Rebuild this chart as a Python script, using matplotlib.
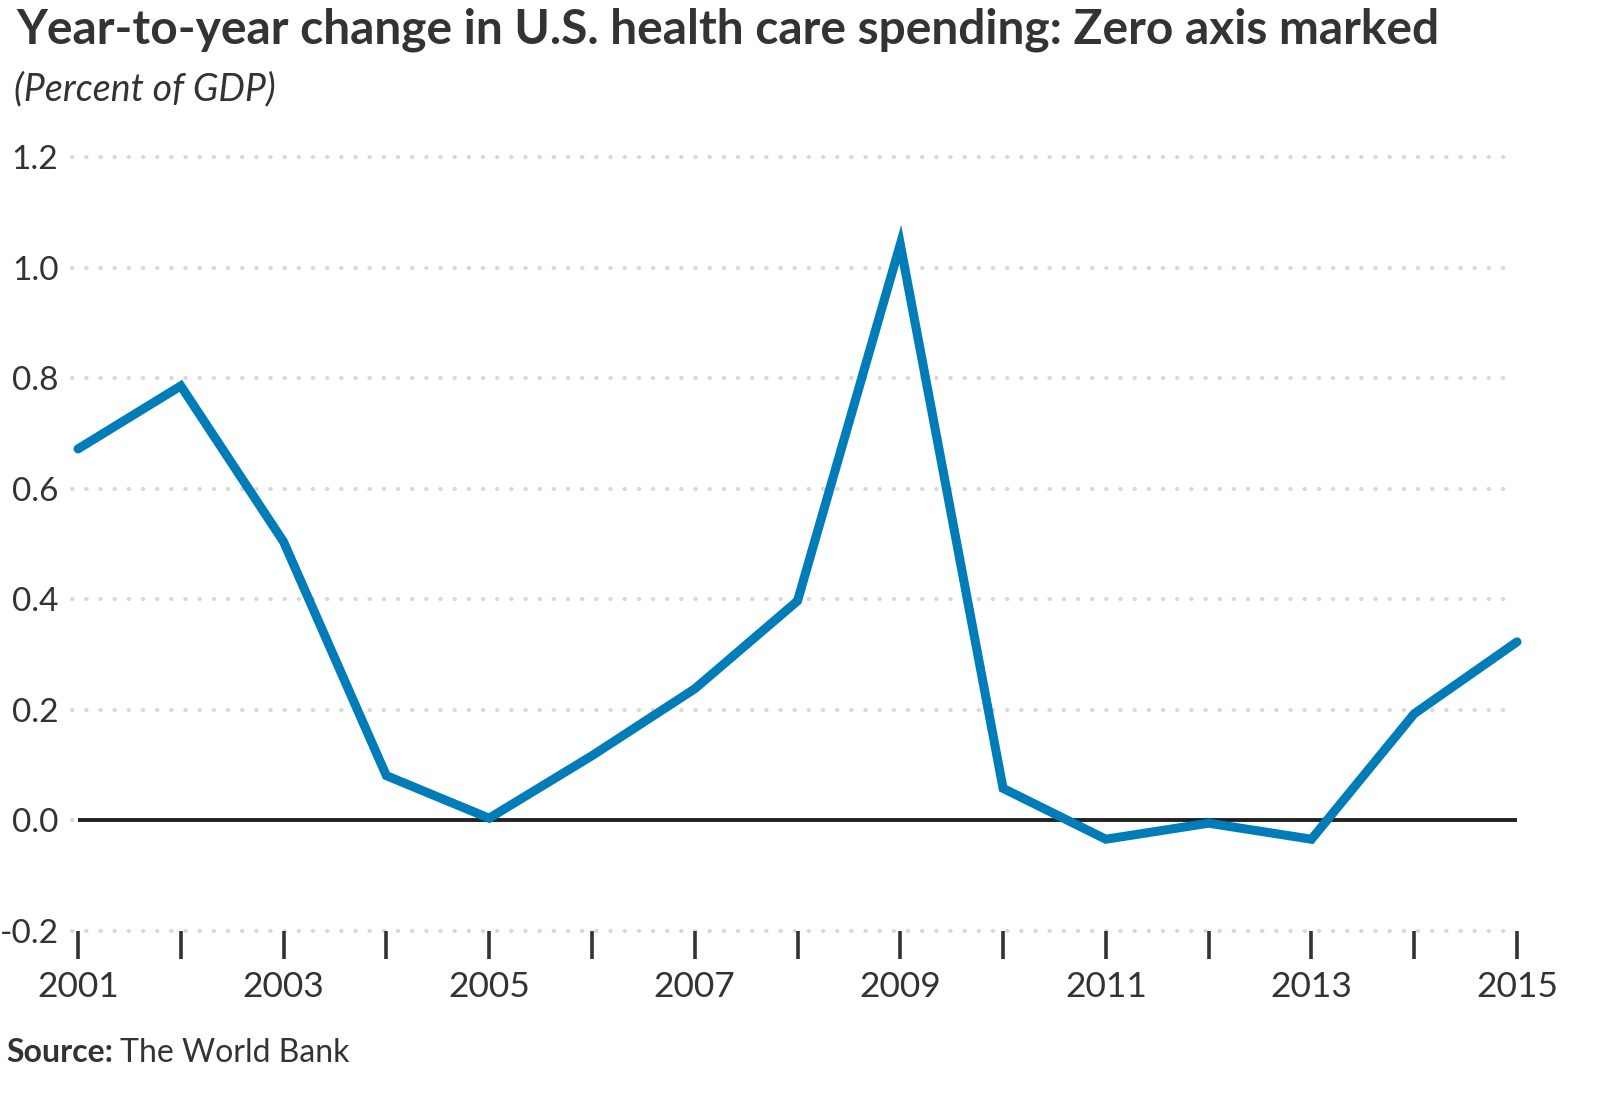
import numpy as np
from matplotlib import pyplot as plt

years = [2001, 2002, 2003, 2004, 2005, 2006, 2007, 2008, 2009, 2010, 2011, 2012, 2013, 2014, 2015]
change = [0.672, 0.786, 0.504, 0.081, 0.004, 0.117, 0.238, 0.397, 1.042, 0.058, -0.034, -0.005, -0.034, 0.193, 0.323]
yticks = [-0.2, 0.0, 0.2, 0.4, 0.6, 0.8, 1.0, 1.2]
xlabels = [2001, 2003, 2005, 2007, 2009, 2011, 2013, 2015]

plt.rcParams['font.family'] = ['Lato', 'DejaVu Sans']
txt = "#333333"

fig = plt.figure(figsize=(16.04, 10.98), dpi=100)
ax = fig.add_axes([78/1604, 1-931/1098, (1517-78)/1604, (931-157)/1098])

ax.set_xlim(2001, 2015)
ax.set_ylim(-0.2, 1.2)

# dotted grid
for v in yticks:
    ax.plot([2000.94, 2015], [v, v], color="#d9d9d9", lw=3, linestyle=(0, (0.1, 3.3)),
            dash_capstyle="round", clip_on=False, zorder=1)
ax.axhline(0, color="#222222", lw=2.8, zorder=2)

ax.plot(years, change, color="#007db8", lw=6.5, solid_capstyle="round",
        solid_joinstyle="miter", clip_on=False, zorder=3)

for s in ax.spines.values():
    s.set_visible(False)

ax.set_yticks(yticks)
ax.set_yticklabels(["%.1f" % v for v in yticks], color=txt, fontsize=24)
ax.tick_params(axis="y", length=0, pad=14)

ax.set_xticks(years)
ax.set_xticklabels([str(y) if y in xlabels else "" for y in years], color=txt, fontsize=25.5)
ax.tick_params(axis="x", length=20, width=2.6, color="#333333", direction="out", pad=9)

fig.text(16/1604, 1-30/1098, "Year-to-year change in U.S. health care spending: Zero axis marked",
         fontsize=34.5, fontweight="bold", color=txt, va="center", ha="left")
fig.text(14/1604, 1-89/1098, "(Percent of GDP)", fontsize=27, style="italic", color=txt,
         va="center", ha="left")
t = fig.text(6/1604, 1-1053/1098, "Source:", fontsize=23, fontweight="bold", color=txt,
             va="center", ha="left")
fig.canvas.draw()
bb = t.get_window_extent()
fig.text((bb.x1 + 7)/1604, 1-1053/1098, "The World Bank", fontsize=23, color=txt,
         va="center", ha="left")

fig.savefig("out.png", dpi=100, facecolor="white")
